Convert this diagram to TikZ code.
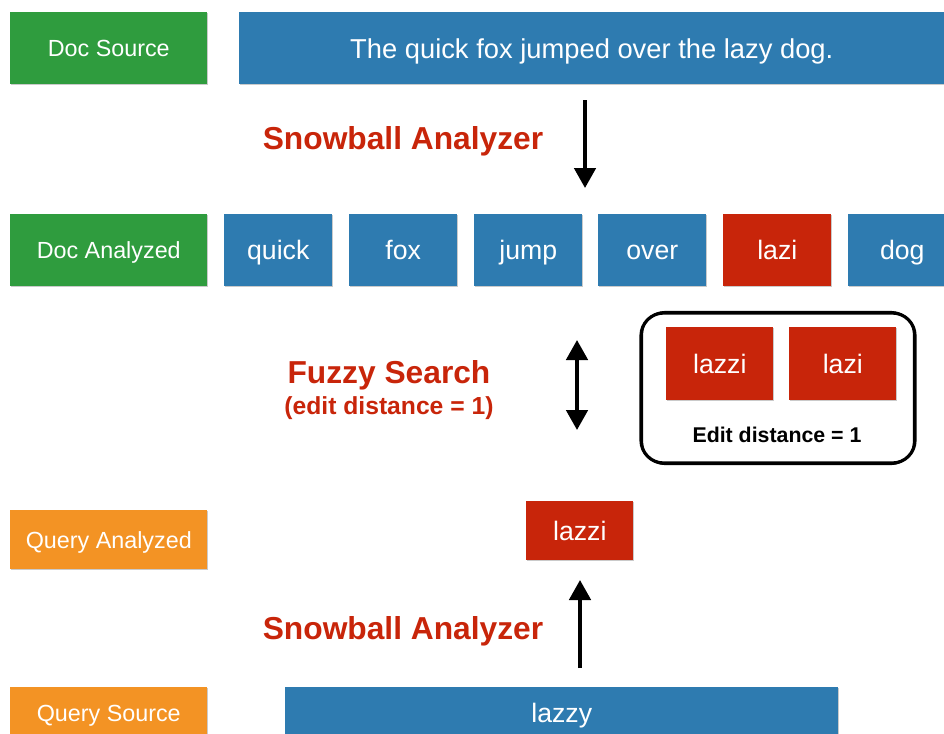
\documentclass[tikz,border=0pt]{standalone}
\usepackage{fontspec}
\setmainfont{Liberation Sans}
\usetikzlibrary{arrows.meta,shadows}
\definecolor{gGreen}{HTML}{2F9C3E}
\definecolor{gBlue}{HTML}{2E7BB0}
\definecolor{gRed}{HTML}{C8250A}
\definecolor{gOrange}{HTML}{F39324}
\definecolor{tRed}{HTML}{C8250A}
\begin{document}
\begin{tikzpicture}[x=0.75pt,y=-0.75pt,
  >={Triangle[width=16pt,length=15pt]},
  tile/.style={anchor=north west,inner sep=0pt,text=white,
    font=\fontsize{17.5}{19}\selectfont,text height=12.6pt,text depth=0pt,
    drop shadow={shadow xshift=0.6pt,shadow yshift=-0.9pt,opacity=0.35,fill=black!60}},
  greenbox/.style={tile,fill=gGreen},
  bluebox/.style={tile,fill=gBlue},
  redbox/.style={tile,fill=gRed},
  orangebox/.style={tile,fill=gOrange},
  wordfont/.style={font=\fontsize{20}{22}\selectfont,text height=14.4pt,text depth=0pt},
  steplabel/.style={text=tRed,font=\bfseries\fontsize{23.8}{26}\selectfont},
  flowarrow/.style={line width=2.8pt,draw=black}
]
\useasboundingbox (0,0) rectangle (944,733);

% row 1: source document
\node[greenbox,minimum width=197*0.75pt,minimum height=72*0.75pt] (docsrc) at (10,12) {Doc Source};
\node[bluebox,font=\fontsize{20.5}{22}\selectfont,text height=14.8pt,minimum width=705*0.75pt,minimum height=72*0.75pt] (sentence) at (239,12) {The quick fox jumped over the lazy dog.};

% first analysis step
\node[steplabel] (snow1) at (403,141) {Snowball Analyzer};
\coordinate (a1s) at (585,100);
\coordinate (a1e) at (585,188);
\draw[flowarrow,->] (a1s) -- (a1e);

% row 2: analyzed tokens
\node[greenbox,minimum width=197*0.75pt,minimum height=72*0.75pt] (docan) at (10,214) {Doc Analyzed};
\foreach \x/\w/\n/\s in {224/quick/t1/bluebox,349/fox/t2/bluebox,474/jump/t3/bluebox,598/over/t4/bluebox,723/lazi/t5/redbox}
  \node[\s,wordfont,minimum width=108*0.75pt,minimum height=72*0.75pt] (\n) at (\x,214) {\w};
\node[bluebox,wordfont,minimum width=108*0.75pt,minimum height=72*0.75pt] (t6) at (848,214) {dog};

% fuzzy matching
\node[steplabel] (fuzzy) at (389,375) {Fuzzy Search};
\node[text=tRed,font=\bfseries\fontsize{18.5}{20}\selectfont] (fuzzysub) at (389,408) {(edit distance = 1)};
\coordinate (a2s) at (577,340);
\coordinate (a2e) at (577,430);
\draw[flowarrow,<->] (a2s) -- (a2e);

% hand-drawn frame around the candidate terms
\draw[line width=2.4pt,rounded corners=17pt] (641,313) rectangle (915,463);
\draw[line width=0.9pt,rounded corners=17pt] (642.5,311.5) rectangle (913.5,464.5);
\node[redbox,wordfont,minimum width=107*0.75pt,minimum height=73*0.75pt] (m1) at (666,327) {lazzi};
\node[redbox,wordfont,minimum width=107*0.75pt,minimum height=73*0.75pt] (m2) at (789,327) {lazi};
\node[font=\bfseries\fontsize{16}{18}\selectfont] (ed) at (777,435) {Edit distance = 1};

% row 3: analyzed query
\node[orangebox,minimum width=197*0.75pt,minimum height=59*0.75pt] (qan) at (10,510) {Query Analyzed};
\node[redbox,wordfont,minimum width=107*0.75pt,minimum height=59*0.75pt] (qterm) at (526,501) {lazzi};

% second analysis step
\node[steplabel] (snow2) at (403,631) {Snowball Analyzer};
\coordinate (a3s) at (580,668);
\coordinate (a3e) at (580,580);
\draw[flowarrow,->] (a3s) -- (a3e);

% row 4: query source
\node[orangebox,minimum width=197*0.75pt,minimum height=52*0.75pt] (qsrc) at (10,687) {Query Source};
\node[bluebox,wordfont,minimum width=553*0.75pt,minimum height=52*0.75pt] (qtext) at (285,687) {lazzy};
\end{tikzpicture}
\end{document}
